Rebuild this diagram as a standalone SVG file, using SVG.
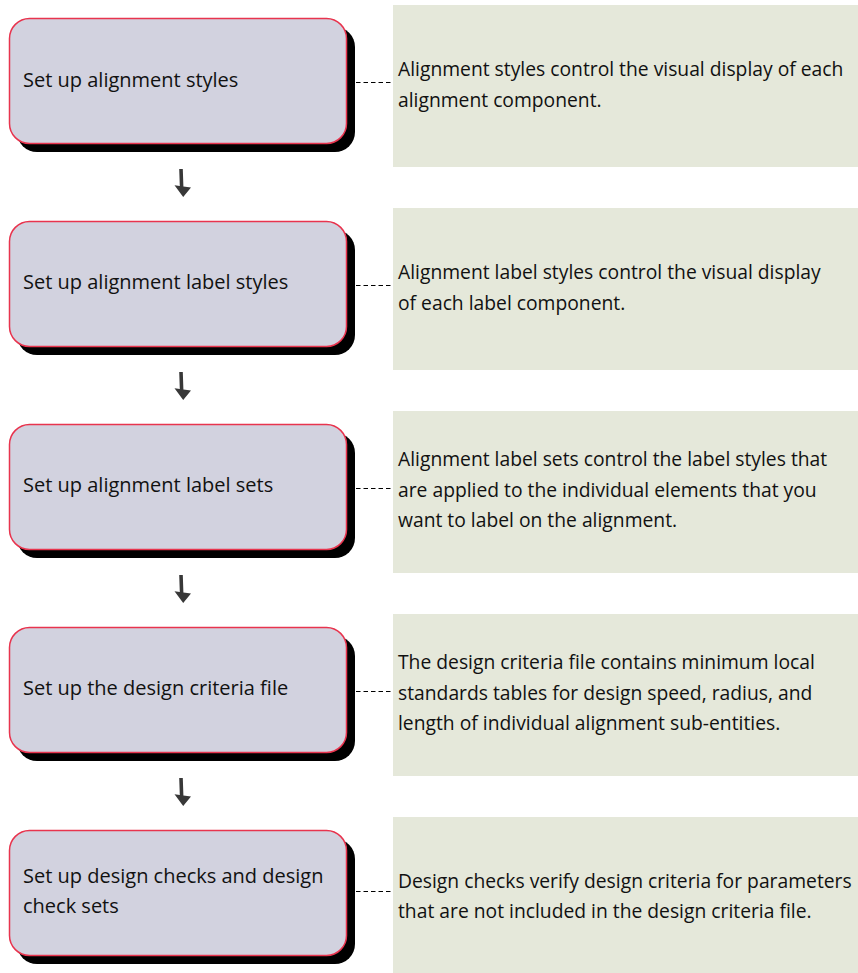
<svg xmlns="http://www.w3.org/2000/svg" xmlns:xlink="http://www.w3.org/1999/xlink" width="858" height="973" viewBox="0 0 858 973">
  <style>
    .panel { fill: #e5e8da; }
    .shadow { fill: #000000; }
    .box { fill: #d2d2df; stroke: #e8344e; stroke-width: 1.5; }
    .txt { font-family: "Open Sans", "Liberation Sans", sans-serif; font-size: 20px; fill: #111111; }
    .note { font-size: 19.3px; }
    .link { stroke: #000000; stroke-width: 1; stroke-dasharray: 4.5 3; fill: none; }
    .arrow { fill: #383838; }
  </style>
  <defs>
    <!-- small hand-set down arrow between steps -->
    <path id="down" d="M179.2,169 L182.8,169 L183.4,186.5 L191,187.6 L183.2,197 L174.5,185.2 L179.8,186 Z"/>
  </defs>

  <rect width="858" height="973" fill="#ffffff"/>

  <!-- step 1 -->
  <g id="step1">
    <rect class="panel" x="393" y="5" width="465" height="162"/>
    <rect class="shadow" x="17" y="27" width="338" height="125" rx="20"/>
    <rect class="box" x="9.5" y="18.5" width="337" height="125" rx="20"/>
    <text class="txt" x="23" y="87">Set up alignment styles</text>
    <text class="txt note" x="398" y="76">Alignment styles control the visual display of each</text>
    <text class="txt note" x="398" y="106.5">alignment component.</text>
  </g>

  <!-- step 2 -->
  <g id="step2">
    <rect class="panel" x="393" y="208" width="465" height="162"/>
    <rect class="shadow" x="17" y="230" width="338" height="125" rx="20"/>
    <rect class="box" x="9.5" y="221.5" width="337" height="125" rx="20"/>
    <text class="txt" x="23" y="289">Set up alignment label styles</text>
    <text class="txt note" x="398" y="279">Alignment label styles control the visual display</text>
    <text class="txt note" x="398" y="309.5">of each label component.</text>
  </g>

  <!-- step 3 -->
  <g id="step3">
    <rect class="panel" x="393" y="411" width="465" height="162"/>
    <rect class="shadow" x="17" y="433" width="338" height="125" rx="20"/>
    <rect class="box" x="9.5" y="424.5" width="337" height="125" rx="20"/>
    <text class="txt" x="23" y="492">Set up alignment label sets</text>
    <text class="txt note" x="398" y="466">Alignment label sets control the label styles that</text>
    <text class="txt note" x="398" y="496.5">are applied to the individual elements that you</text>
    <text class="txt note" x="398" y="527">want to label on the alignment.</text>
  </g>

  <!-- step 4 -->
  <g id="step4">
    <rect class="panel" x="393" y="614" width="465" height="162"/>
    <rect class="shadow" x="17" y="636" width="338" height="125" rx="20"/>
    <rect class="box" x="9.5" y="627.5" width="337" height="125" rx="20"/>
    <text class="txt" x="23" y="695">Set up the design criteria file</text>
    <text class="txt note" x="398" y="669">The design criteria file contains minimum local</text>
    <text class="txt note" x="398" y="699.5">standards tables for design speed, radius, and</text>
    <text class="txt note" x="398" y="730">length of individual alignment sub-entities.</text>
  </g>

  <!-- step 5 -->
  <g id="step5">
    <rect class="panel" x="393" y="817" width="465" height="156"/>
    <rect class="shadow" x="17" y="839" width="338" height="125" rx="20"/>
    <rect class="box" x="9.5" y="830.5" width="337" height="125" rx="20"/>
    <text class="txt" x="23" y="883">Set up design checks and design</text>
    <text class="txt" x="23" y="913">check sets</text>
    <text class="txt note" x="398" y="887.5">Design checks verify design criteria for parameters</text>
    <text class="txt note" x="398" y="917.5">that are not included in the design criteria file.</text>
  </g>

  <!-- connectors: dashed leaders to notes, arrows between steps -->
  <g id="connectors">
    <line class="link" x1="356" y1="82.5" x2="391" y2="82.5"/>
    <line class="link" x1="356" y1="285.5" x2="391" y2="285.5"/>
    <line class="link" x1="356" y1="488.5" x2="391" y2="488.5"/>
    <line class="link" x1="356" y1="691.5" x2="391" y2="691.5"/>
    <line class="link" x1="356" y1="891.5" x2="391" y2="891.5"/>
    <use class="arrow" xlink:href="#down"/>
    <use class="arrow" xlink:href="#down" transform="translate(0,203)"/>
    <use class="arrow" xlink:href="#down" transform="translate(0,406)"/>
    <use class="arrow" xlink:href="#down" transform="translate(0,609)"/>
  </g>
</svg>
